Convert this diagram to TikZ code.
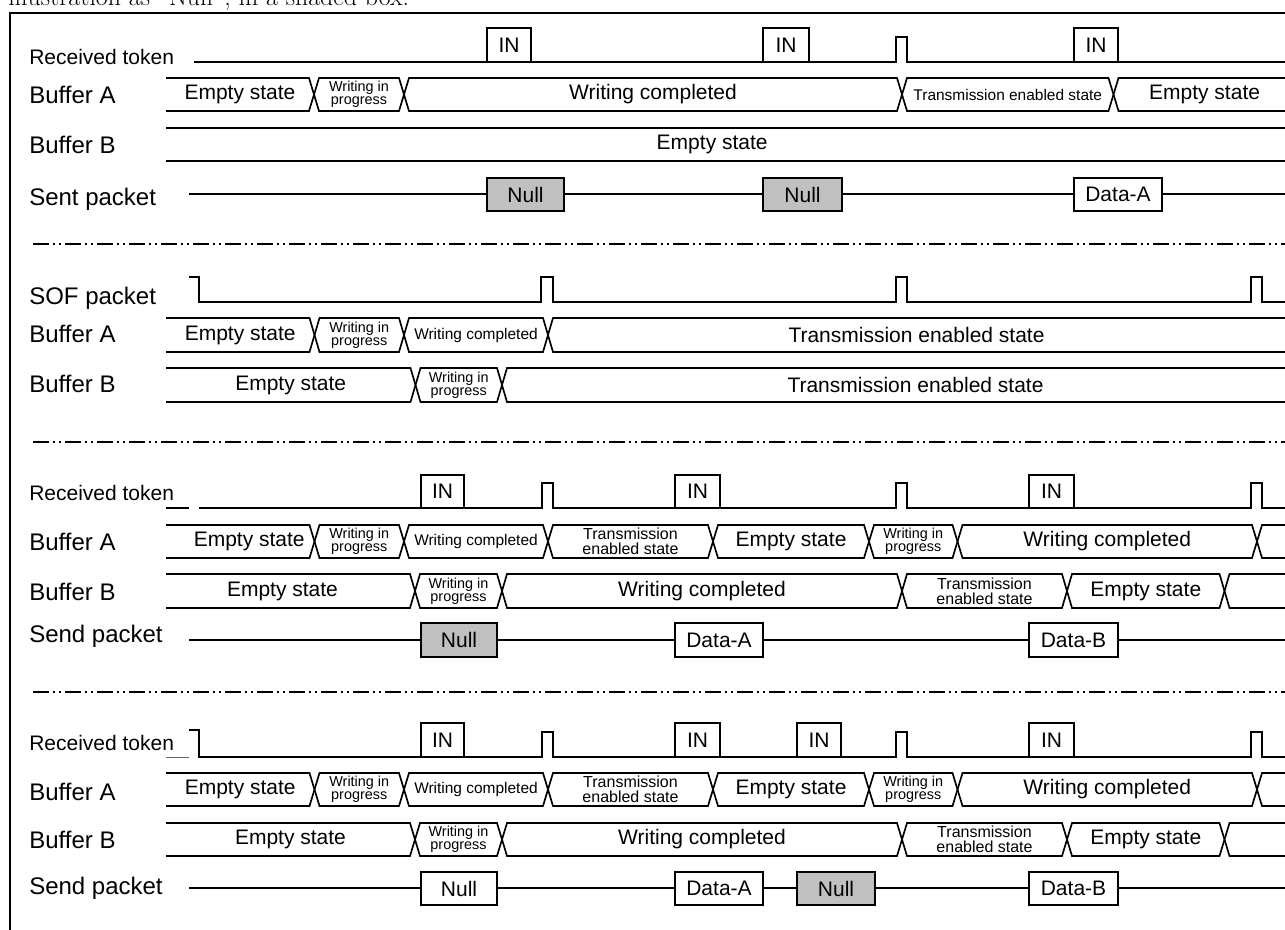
\documentclass[tikz,border=0pt]{standalone}
\usepackage{fontspec}
\newfontfamily\arial{Liberation Sans}
\definecolor{nullgray}{RGB}{192,192,192}
\tikzset{
  bus/.style={line width=1.25pt, line join=miter},
  sig/.style={line width=1.25pt, line join=miter},
  boxline/.style={line width=1.25pt},
  sep/.style={line width=1.2pt, dash pattern=on 12pt off 3pt on 1.5pt off 3pt on 1.5pt off 3pt},
  lbl/.style={font=\arial\fontsize{18}{20}\selectfont, anchor=base west, inner sep=0pt},
  rlbl/.style={font=\arial\fontsize{15.75}{18}\selectfont, anchor=base west, inner sep=0pt},
  big/.style={font=\arial\fontsize{15.75}{18}\selectfont, inner sep=0pt},
  mid/.style={font=\arial\fontsize{11.6}{13}\selectfont, inner sep=0pt},
  wip/.style={font=\arial\fontsize{10.8}{10}\selectfont, align=center, inner sep=0pt},
  tes/.style={font=\arial\fontsize{12}{11.5}\selectfont, align=center, inner sep=0pt},
}
% bus segment: name, x1, x2, top, bottom, left type (o/x), right type (o/x), style, text
\newcommand\seg[9]{%
  \pgfmathsetmacro\ym{(#4+#5)/2}%
  \if#6o\def\dl{0}\def\ytl{#4}\def\ybl{#5}\else\def\dl{5}\let\ytl\ym\let\ybl\ym\fi
  \if#7o\def\dr{0}\def\ytr{#4}\def\ybr{#5}\else\def\dr{5}\let\ytr\ym\let\ybr\ym\fi
  \draw[bus] (#2,\ytl) -- (#2+\dl,#4) -- (#3-\dr,#4) -- (#3,\ytr);
  \draw[bus] (#2,\ybl) -- (#2+\dl,#5) -- (#3-\dr,#5) -- (#3,\ybr);
  \node[#8] (#1) at ({(#2+#3)/2},\ym) {#9};
}
% packet / token box: name, x1, y1, x2, y2, fill, text
\newcommand\pbox[7]{%
  \draw[boxline, fill=#6] (#2,#3) rectangle (#4,#5);
  \node[big] (#1) at ({(#2+#4)/2},{(#3+#5)/2}) {#7};
}
\begin{document}
\begin{tikzpicture}[x=0.75pt,y=-0.75pt]
\useasboundingbox (0,0) rectangle (1285,929);
\clip (0,0) rectangle (1285,929);
\fill[white] (0,0) rectangle (1285,929);

% clipped caption line and frame
\node[anchor=base west, font=\fontsize{19.4}{22}\selectfont, inner sep=0pt] (cap) at (8,5.5) {illustration as ``Null'', in a shaded box.};
\draw[line width=1.6pt] (10,13) rectangle (1310,960);

% ================= Section 1 =================
\node[rlbl] (s1rt) at (29,64) {Received token};
\node[lbl] (s1ba) at (29,103) {Buffer A};
\node[lbl] (s1bb) at (29,153) {Buffer B};
\node[lbl] (s1sp) at (29,205) {Sent packet};

\draw[sig] (194,62) -- (896,62) -- (896,37) -- (907,37) -- (907,62) -- (1285,62);
\pbox{s1in1}{487}{28}{531}{62}{white}{IN}
\pbox{s1in2}{763}{28}{809}{62}{white}{IN}
\pbox{s1in3}{1074}{28}{1118}{62}{white}{IN}

\seg{s1a1}{166}{314}{78}{111}{o}{x}{big}{Empty state}
\seg{s1a2}{314}{404}{78}{111}{x}{x}{wip}{Writing in\\progress}
\seg{s1a3}{404}{902}{78}{111}{x}{x}{big}{Writing completed}
\seg{s1a4}{902}{1113.5}{78}{111}{x}{x}{mid}{Transmission enabled state}
\seg{s1a5}{1113.5}{1285}{78}{111}{x}{o}{big,xshift=4pt}{Empty state}

\seg{s1b1}{166}{1285}{128}{161}{o}{o}{big,xshift=-10pt}{Empty state}

\draw[sig] (189,194) -- (1285,194);
\pbox{s1p1}{487}{178}{564}{211}{nullgray}{Null}
\pbox{s1p2}{763}{178}{842}{211}{nullgray}{Null}
\pbox{s1p3}{1074}{178}{1162}{211}{white}{Data-A}

\draw[sep] (33,244) -- (1285,244);

% ================= Section 2 =================
\node[lbl] (s2sof) at (29,304) {SOF packet};
\node[lbl] (s2ba) at (29,342) {Buffer A};
\node[lbl] (s2bb) at (29,392) {Buffer B};

\draw[sig] (189,277) -- (199,277) -- (199,302) -- (541,302) -- (541,277) -- (553,277) -- (553,302)
  -- (896,302) -- (896,277) -- (907,277) -- (907,302)
  -- (1251,302) -- (1251,277) -- (1262,277) -- (1262,302) -- (1285,302);

\seg{s2a1}{166}{314.5}{318}{352}{o}{x}{big}{Empty state}
\seg{s2a2}{314.5}{404}{318}{352}{x}{x}{wip}{Writing in\\progress}
\seg{s2a3}{404}{548}{318}{352}{x}{x}{mid}{Writing completed}
\seg{s2a4}{548}{1285}{318}{352}{x}{o}{big}{Transmission enabled state}

\seg{s2b1}{166}{415.5}{368}{402}{o}{x}{big}{Empty state}
\seg{s2b2}{415.5}{502}{368}{402}{x}{x}{wip}{Writing in\\progress}
\seg{s2b3}{502}{1285}{368}{402}{x}{o}{big,xshift=16.5pt}{Transmission enabled state}

\draw[sep] (33,442) -- (1285,442);

% ================= Section 3 =================
\node[rlbl] (s3rt) at (29,500) {Received token};
\node[lbl] (s3ba) at (29,550) {Buffer A};
\node[lbl] (s3bb) at (29,600) {Buffer B};
\node[lbl] (s3sp) at (29,642) {Send packet};

\draw[sig] (166,508) -- (189,508);
\draw[sig] (199,508) -- (542,508) -- (542,483) -- (553,483) -- (553,508)
  -- (896,508) -- (896,483) -- (907,483) -- (907,508)
  -- (1251,508) -- (1251,483) -- (1262,483) -- (1262,508) -- (1285,508);
\pbox{s3in1}{421}{475}{464}{508}{white}{IN}
\pbox{s3in2}{675}{475}{720}{508}{white}{IN}
\pbox{s3in3}{1029}{475}{1074}{508}{white}{IN}

\seg{s3a1}{166}{314.5}{525}{558}{o}{x}{big,xshift=6.75pt}{Empty state}
\seg{s3a2}{314.5}{404}{525}{558}{x}{x}{wip}{Writing in\\progress}
\seg{s3a3}{404}{548}{525}{558}{x}{x}{mid}{Writing completed}
\seg{s3a4}{548}{713}{525}{558}{x}{x}{tes}{Transmission\\enabled state}
\seg{s3a5}{713}{869}{525}{558}{x}{x}{big}{Empty state}
\seg{s3a6}{869}{957.5}{525}{558}{x}{x}{wip}{Writing in\\progress}
\seg{s3a7}{957.5}{1257}{525}{558}{x}{x}{big}{Writing completed}
\seg{s3a8}{1257}{1285}{525}{558}{x}{o}{big}{}

\seg{s3b1}{166}{415}{574}{608}{o}{x}{big,xshift=-6pt}{Empty state}
\seg{s3b2}{415}{502}{574}{608}{x}{x}{wip}{Writing in\\progress}
\seg{s3b3}{502}{902}{574}{608}{x}{x}{big}{Writing completed}
\seg{s3b4}{902}{1067}{574}{608}{x}{x}{tes}{Transmission\\enabled state}
\seg{s3b5}{1067}{1224.5}{574}{608}{x}{x}{big}{Empty state}
\seg{s3b6}{1224.5}{1285}{574}{608}{x}{o}{big}{}

\draw[sig] (189,640) -- (1285,640);
\pbox{s3p1}{421}{623}{497}{657}{nullgray}{Null}
\pbox{s3p2}{675}{623}{763}{657}{white}{Data-A}
\pbox{s3p3}{1029}{623}{1118}{657}{white}{Data-B}

\draw[sep] (33,692) -- (1285,692);

% ================= Section 4 =================
\node[rlbl] (s4rt) at (29,750) {Received token};
\node[lbl] (s4ba) at (29,800) {Buffer A};
\node[lbl] (s4bb) at (29,848) {Buffer B};
\node[lbl] (s4sp) at (29,894) {Send packet};

\draw[line width=0.6pt, black!60] (166,757) -- (189,757);
\draw[sig] (189,730) -- (199,730) -- (199,757) -- (542,757) -- (542,732) -- (553,732) -- (553,757)
  -- (896,757) -- (896,732) -- (907,732) -- (907,757)
  -- (1251,757) -- (1251,732) -- (1262,732) -- (1262,757) -- (1285,757);
\pbox{s4in1}{421}{723}{464}{757}{white}{IN}
\pbox{s4in2}{675}{723}{720}{757}{white}{IN}
\pbox{s4in3}{797}{723}{841}{757}{white}{IN}
\pbox{s4in4}{1029}{723}{1074}{757}{white}{IN}

\seg{s4a1}{166}{314.5}{773}{806}{o}{x}{big}{Empty state}
\seg{s4a2}{314.5}{404}{773}{806}{x}{x}{wip}{Writing in\\progress}
\seg{s4a3}{404}{548}{773}{806}{x}{x}{mid}{Writing completed}
\seg{s4a4}{548}{713}{773}{806}{x}{x}{tes}{Transmission\\enabled state}
\seg{s4a5}{713}{869}{773}{806}{x}{x}{big}{Empty state}
\seg{s4a6}{869}{957.5}{773}{806}{x}{x}{wip}{Writing in\\progress}
\seg{s4a7}{957.5}{1257}{773}{806}{x}{x}{big}{Writing completed}
\seg{s4a8}{1257}{1285}{773}{806}{x}{o}{big}{}

\seg{s4b1}{166}{415}{823}{856}{o}{x}{big}{Empty state}
\seg{s4b2}{415}{502}{823}{856}{x}{x}{wip}{Writing in\\progress}
\seg{s4b3}{502}{902}{823}{856}{x}{x}{big}{Writing completed}
\seg{s4b4}{902}{1067}{823}{856}{x}{x}{tes}{Transmission\\enabled state}
\seg{s4b5}{1067}{1224.5}{823}{856}{x}{x}{big}{Empty state}
\seg{s4b6}{1224.5}{1285}{823}{856}{x}{o}{big}{}

\draw[sig] (189,888) -- (1285,888);
\pbox{s4p1}{421}{872}{497}{905}{white}{Null}
\pbox{s4p2}{675}{872}{763}{905}{white}{Data-A}
\pbox{s4p3}{797}{872}{875}{905}{nullgray}{Null}
\pbox{s4p4}{1029}{872}{1118}{905}{white}{Data-B}
\end{tikzpicture}
\end{document}
